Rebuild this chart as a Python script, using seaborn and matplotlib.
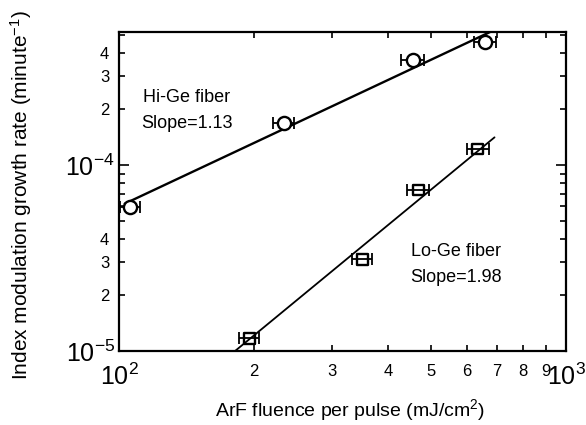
import numpy as np
import pandas as pd
import matplotlib
matplotlib.use("Agg")
import matplotlib.pyplot as plt
import seaborn as sns

# ---- data ----
hi_x = [106, 234, 455, 659]
hi_y = [5.95e-5, 1.68e-4, 3.67e-4, 4.59e-4]
hi_xerr = [5.6, 12.4, 27, 37]
lo_x = [196, 350, 467, 635]
lo_y = [1.17e-5, 3.12e-5, 7.34e-5, 1.22e-4]
lo_xerr = [10, 18.5, 27, 36]
hi_slope = 1.13
lo_slope = 1.98
hi_fit_range = [103, 678]
lo_fit_range = [180, 692]
x_major = [100, 1000]
x_major_labels = ["$10^2$", "$10^3$"]
x_minor = [200, 300, 400, 500, 600, 700, 800, 900]
x_minor_labels = ["2", "3", "4", "5", "6", "7", "8", "9"]
y_major = [1e-5, 1e-4]
y_major_labels = ["$10^{-5}$", "$10^{-4}$"]
y_minor = [2e-5, 3e-5, 4e-5, 5e-5, 6e-5, 7e-5, 8e-5, 9e-5, 2e-4, 3e-4, 4e-4, 5e-4]
y_minor_labels = ["2", "3", "4", "", "", "", "", "", "2", "3", "4", ""]

sns.set_style("ticks")
plt.rcParams["font.family"] = ["Liberation Sans", "DejaVu Sans"]
plt.rcParams["mathtext.fontset"] = "custom"
plt.rcParams["mathtext.rm"] = "Liberation Sans"
plt.rcParams["mathtext.it"] = "Liberation Sans:italic"
plt.rcParams["mathtext.bf"] = "Liberation Sans:bold"
for k in ["text.color", "axes.labelcolor", "xtick.color", "ytick.color", "axes.edgecolor"]:
    plt.rcParams[k] = "black"

fig = plt.figure(figsize=(5.86, 4.25), dpi=100)
ax = fig.add_axes([119/586, 74/425, (566-119)/586, (351-32)/425])


def fit_line(xs, ys, slope, rng):
    lx = np.log10(xs)
    ly = np.log10(ys)
    b = np.mean(ly - slope * lx)
    xx = np.logspace(np.log10(rng[0]), np.log10(rng[1]), 50)
    return pd.DataFrame({"x": xx, "y": 10 ** (b + slope * np.log10(xx))})


hi_fit = fit_line(hi_x, hi_y, hi_slope, hi_fit_range)
lo_fit = fit_line(lo_x, lo_y, lo_slope, lo_fit_range)
sns.lineplot(data=hi_fit, x="x", y="y", ax=ax, color="black", lw=1.7, zorder=2)
sns.lineplot(data=lo_fit, x="x", y="y", ax=ax, color="black", lw=1.3, zorder=2)

ax.errorbar(hi_x, hi_y, xerr=hi_xerr, fmt="none", ecolor="black", elinewidth=1.3,
            capsize=4, capthick=1.3, zorder=3)
ax.errorbar(lo_x, lo_y, xerr=lo_xerr, fmt="none", ecolor="black", elinewidth=1.3,
            capsize=4, capthick=1.3, zorder=3)

hi_df = pd.DataFrame({"x": hi_x, "y": hi_y})
lo_df = pd.DataFrame({"x": lo_x, "y": lo_y})
sns.scatterplot(data=hi_df, x="x", y="y", ax=ax, marker="o", s=90,
                facecolor="white", edgecolor="black", linewidth=1.7, zorder=4)
sns.scatterplot(data=lo_df, x="x", y="y", ax=ax, marker="s", s=60,
                facecolor="none", edgecolor="black", linewidth=1.7, zorder=4)

ax.set_xscale("log")
ax.set_yscale("log")
ax.set_xlim(100, 1000)
ax.set_ylim(1e-5, 5.2e-4)

ax.set_xticks(x_major)
ax.set_xticklabels(x_major_labels, fontsize=18)
ax.set_xticks(x_minor, minor=True)
ax.set_xticklabels(x_minor_labels, minor=True, fontsize=12)
ax.set_yticks(y_major)
ax.set_yticklabels(y_major_labels, fontsize=18)
ax.set_yticks(y_minor, minor=True)
ax.set_yticklabels(y_minor_labels, minor=True, fontsize=12)

ax.tick_params(which="both", direction="in", top=True, right=True, color="black", width=1.2)
ax.tick_params(which="major", length=7)
ax.tick_params(which="minor", length=4)
ax.tick_params(axis="x", which="both", pad=9)
ax.tick_params(axis="y", which="major", pad=3)
ax.tick_params(axis="y", which="minor", pad=7)
for s in ax.spines.values():
    s.set_linewidth(1.6)
    s.set_color("black")
    s.set_visible(True)

ax.set_xlabel("ArF fluence per pulse (mJ/cm$^2$)", fontsize=14)
ax.set_ylabel("Index modulation growth rate (minute$^{-1}$)", fontsize=15)
ax.xaxis.set_label_coords(0.517, -0.143)
ax.yaxis.set_label_coords(-0.19, 0.489)

ax.text(0.152, 0.795, "Hi-Ge fiber", transform=ax.transAxes, ha="center", va="center", fontsize=13)
ax.text(0.152, 0.712, "Slope=1.13", transform=ax.transAxes, ha="center", va="center", fontsize=13)
ax.text(0.754, 0.313, "Lo-Ge fiber", transform=ax.transAxes, ha="center", va="center", fontsize=13)
ax.text(0.754, 0.229, "Slope=1.98", transform=ax.transAxes, ha="center", va="center", fontsize=13)

fig.savefig("out.png", dpi=100)
